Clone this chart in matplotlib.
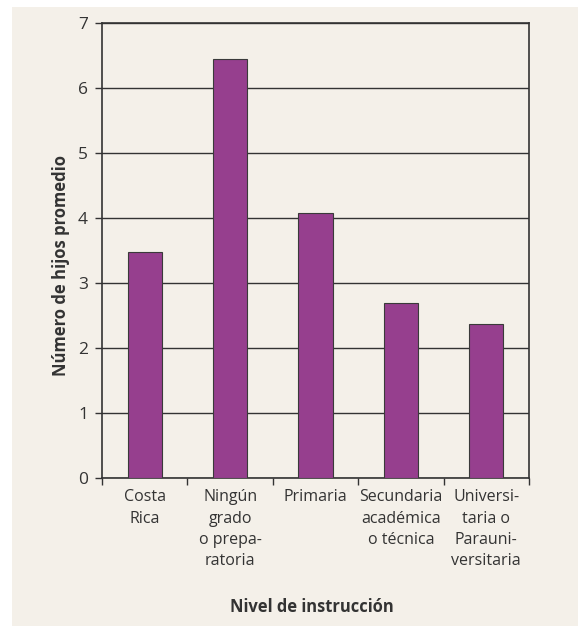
import matplotlib.pyplot as plt
from matplotlib.patches import Rectangle
import numpy as np

categorias = ['Costa\nRica', 'Ningún\ngrado\no prepa-\nratoria', 'Primaria',
              'Secundaria\nacadémica\no técnica', 'Universi-\ntaria o\nParauni-\nversitaria']
hijos = [3.48, 6.45, 4.07, 2.70, 2.37]

plt.rcParams['font.family'] = ['Open Sans', 'DejaVu Sans']

fig = plt.figure(figsize=(5.81, 6.27), dpi=100)
fig.patch.set_facecolor('white')
fondo = '#f4f0e9'
fig.patches.append(Rectangle((12 / 581, 1 - 626 / 627), 566 / 581, 619 / 627,
                             transform=fig.transFigure, facecolor=fondo, edgecolor='none', zorder=-10))

ax = fig.add_axes([102 / 581, 1 - 478 / 627, 427 / 581, 455 / 627])
ax.set_zorder(1)
ax.set_facecolor(fondo)

x = np.arange(len(categorias))
ax.bar(x, hijos, width=0.4, color='#963f8e', edgecolor='#3a3a3a', linewidth=0.8, zorder=3)

ax.set_xlim(-0.5, len(categorias) - 0.5)
ax.set_ylim(0, 7)
ax.set_yticks(range(0, 8))
ax.yaxis.grid(True, color='#333333', linewidth=1.0, zorder=1)
ax.set_axisbelow(True)

ax.set_xticks(x)
ax.set_xticklabels(categorias, fontsize=11.5, color='#333333', linespacing=1.45, va='top')
ax.tick_params(axis='x', length=0, pad=8)
ax.set_xticks(np.arange(-0.5, len(categorias)), minor=True)
ax.tick_params(axis='x', which='minor', length=5, width=1, color='#333333')
ax.tick_params(axis='y', length=5, width=1, color='#333333', labelsize=12.5, labelcolor='#333333', pad=5)

for s in ax.spines.values():
    s.set_color('#333333')
    s.set_linewidth(1.2)

ax.set_ylabel('Número de hijos promedio', fontsize=12, fontweight='bold', color='#333333')
ax.yaxis.set_label_coords((70 - 102) / 427, (478 - 266) / 455)
fig.text(312 / 581, 1 - 607 / 627, 'Nivel de instrucción', ha='center', va='center',
         fontsize=11.9, fontweight='bold', color='#333333')

fig.savefig('out.png', dpi=100)
